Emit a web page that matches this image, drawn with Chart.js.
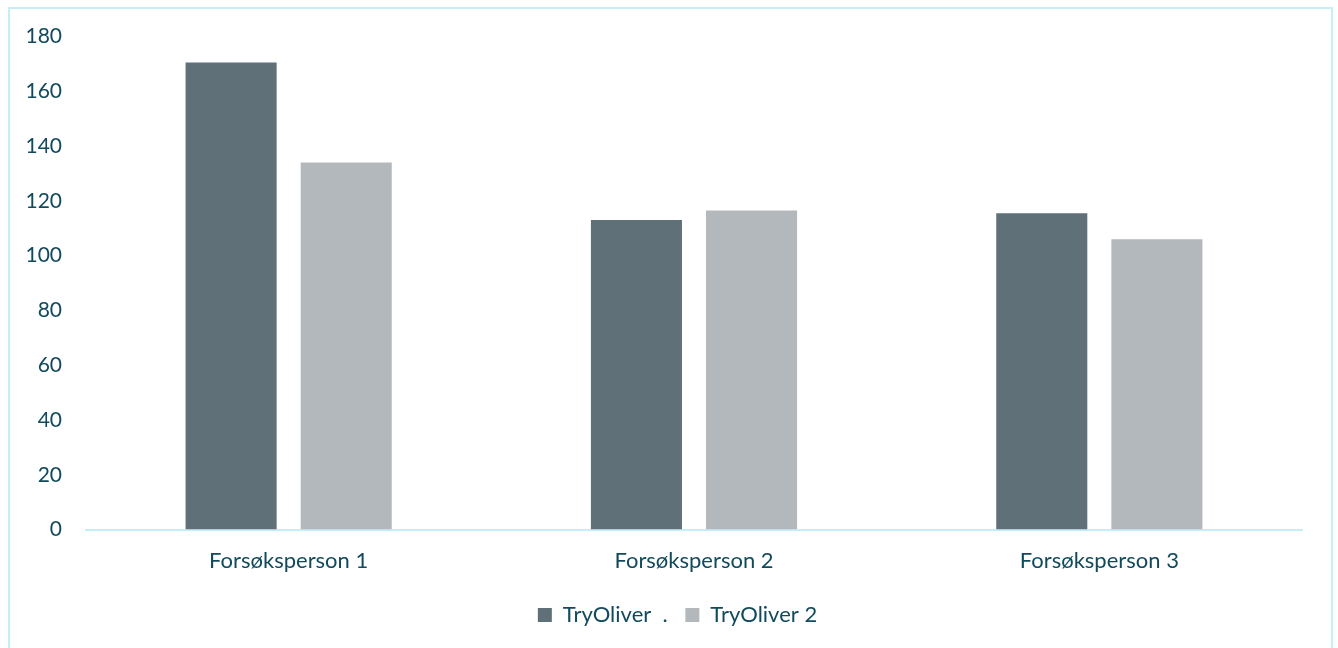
<!DOCTYPE html>
<html>
<head>
<meta charset="utf-8">
<script src="https://cdn.jsdelivr.net/npm/chart.js@4.4.1/dist/chart.umd.min.js"></script>
<style>
  html, body { margin: 0; padding: 0; background: #fff; }
  #wrap { position: relative; width: 1338px; height: 648px; }
  #frame {
    position: absolute; left: 8px; top: 7px; width: 1321px; height: 660px;
    border: 2px solid #c6eef9; pointer-events: none;
  }
</style>
</head>
<body>
<div id="wrap">
  <canvas id="chart"></canvas>
  <div id="frame"></div>
</div>
<script>
const categories = ['Forsøksperson 1', 'Forsøksperson 2', 'Forsøksperson 3'];
const seriesNames = ['TryOliver  . ', 'TryOliver 2'];
const tryOliver1 = [170.5, 113, 115.5];
const tryOliver2 = [134, 116.5, 106];
const yTicks = [0, 20, 40, 60, 80, 100, 120, 140, 160, 180];

const textColor = '#124a5d';
Chart.defaults.font.family = 'Lato, "Open Sans", sans-serif';
Chart.defaults.font.size = 22;
Chart.defaults.color = textColor;

// nudge the legend a bit to the right, like the original
const legendShift = {
  id: 'legendShift',
  afterLayout(chart) {
    const lg = chart.legend;
    if (!lg) return;
    lg.left += 13;
    lg.right += 13;
    lg.adjustHitBoxes();
  },
};

const ctx = document.getElementById('chart').getContext('2d');
new Chart(ctx, {
  type: 'bar',
  data: {
    labels: categories,
    datasets: [
      { label: seriesNames[0], data: tryOliver1, backgroundColor: '#5f7079' },
      { label: seriesNames[1], data: tryOliver2, backgroundColor: '#b3b8bc' },
    ],
  },
  plugins: [legendShift],
  options: {
    responsive: true,
    maintainAspectRatio: false,
    animation: false,
    categoryPercentage: 0.568,
    barPercentage: 0.791,
    layout: { padding: { left: 27, right: 36, top: 36, bottom: 12 } },
    plugins: {
      tooltip: { enabled: false },
      legend: {
        position: 'bottom',
        labels: {
          boxWidth: 14,
          boxHeight: 14,
          padding: 12,
          color: textColor,
          font: { size: 22 },
        },
      },
    },
    scales: {
      x: {
        grid: { display: false, drawTicks: false },
        border: { display: true, color: '#c6eef9', width: 2 },
        ticks: { padding: 18, color: textColor, font: { size: 22 } },
      },
      y: {
        min: 0,
        max: 180,
        afterBuildTicks: (scale) => {
          scale.ticks = yTicks.map(v => ({ value: v }));
        },
        afterFit: (scale) => { scale.width = 59; },
        grid: { display: false, drawTicks: false },
        border: { display: false },
        ticks: { padding: 24, color: textColor, font: { size: 21 } },
      },
    },
  },
});
</script>
</body>
</html>
